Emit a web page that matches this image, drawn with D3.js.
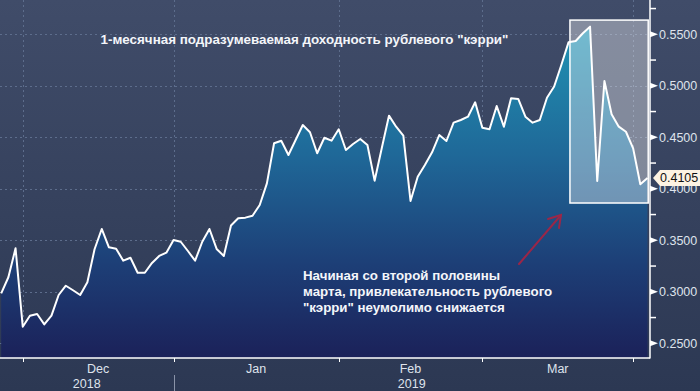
<!DOCTYPE html>
<html><head><meta charset="utf-8">
<script src="https://cdn.jsdelivr.net/npm/d3@7"></script>
<style>html,body{margin:0;padding:0;background:#36425e;}svg{display:block;}</style>
</head><body>
<svg id="chart" width="700" height="391"></svg>
<script>
const values = [0.2985,0.3141,0.3422,0.2661,0.2768,0.2784,0.2684,0.2768,0.2969,0.3059,
0.3015,0.2969,0.3092,0.3413,0.3610,0.3432,0.3418,0.3302,0.3331,0.3185,
0.3185,0.3280,0.3348,0.3380,0.3503,0.3486,0.3396,0.3302,0.3486,0.3610,
0.3416,0.3348,0.3644,0.3714,0.3720,0.3739,0.3843,0.4053,0.4442,0.4467,
0.4328,0.4474,0.4619,0.4549,0.4345,0.4496,0.4467,0.4578,0.4377,0.4435,
0.4483,0.4425,0.4079,0.4396,0.4710,0.4603,0.4516,0.3882,0.4117,0.4231,
0.4354,0.4522,0.4464,0.4642,0.4668,0.4700,0.4840,0.4593,0.4578,0.4804,
0.4603,0.4879,0.4872,0.4700,0.4642,0.4668,0.4884,0.4993,0.5202,0.5422,
0.5435,0.5510,0.5574,0.4076,0.5047,0.4723,0.4603,0.4554,0.4393,0.4044,0.4105];
const monthStartIdx = [3,24,47,67,88];
const monthLabels = ["Dec","Jan","Feb","Mar"];
const yearLabels = ["2018","2019"];
const yMajorTicks = [0.25,0.30,0.35,0.40,0.45,0.50,0.55];
const yMinorTicks = [0.275,0.325,0.375,0.425,0.475,0.525,0.575];
const highlightRange = [79.2, 90.1];
const highlightVals = [0.3862, 0.5638];
const titleText = '1-месячная подразумеваемая доходность рублевого "кэрри"';
const noteLines = ["Начиная со второй половины","марта, привлекательность рублевого",'"кэрри" неумолимо снижается'];
const lastLabel = "0.4105";

const svg = d3.select("#chart");
const W = 700, H = 391, axisX = 650, axisY = 358;
const x = d3.scaleLinear().domain([0, values.length - 1]).range([1.2, 647.5]);
const y = d3.scaleLinear().domain([0.25, 0.55]).range([343.3, 34.3]);
const font = "'Liberation Sans', Arial, sans-serif";

const defs = svg.append("defs");
const bg = defs.append("linearGradient").attr("id","bg").attr("x1",0).attr("y1",0).attr("x2",0).attr("y2",1);
bg.append("stop").attr("offset","0%").attr("stop-color","#404c69");
bg.append("stop").attr("offset","100%").attr("stop-color","#2c3853");
const ag = defs.append("linearGradient").attr("id","ag").attr("gradientUnits","userSpaceOnUse")
  .attr("x1",0).attr("y1",20).attr("x2",0).attr("y2",axisY);
ag.append("stop").attr("offset","0%").attr("stop-color","#2196b5");
ag.append("stop").attr("offset","40%").attr("stop-color","#1f6898");
ag.append("stop").attr("offset","72%").attr("stop-color","#1d3f77");
ag.append("stop").attr("offset","100%").attr("stop-color","#1b2159");

svg.append("rect").attr("width",W).attr("height",H).attr("fill","url(#bg)");

// grid
const grid = svg.append("g").attr("stroke","#5d6d8c").attr("stroke-width",1).attr("stroke-dasharray","2,3");
grid.selectAll(".hg").data(yMajorTicks).join("line")
  .attr("x1",0).attr("x2",axisX).attr("y1",d=>Math.round(y(d))+0.5).attr("y2",d=>Math.round(y(d))+0.5);
grid.selectAll(".vg").data(monthStartIdx).join("line")
  .attr("x1",d=>Math.round(x(d))+0.5).attr("x2",d=>Math.round(x(d))+0.5).attr("y1",0).attr("y2",axisY);

// area + line
const area = d3.area().x((d,i)=>x(i)).y0(axisY).y1(d=>y(d));
svg.append("path").datum(values).attr("d",area).attr("fill","url(#ag)");
const line = d3.line().x((d,i)=>x(i)).y(d=>y(d));
svg.append("path").datum(values).attr("d",line).attr("fill","none")
  .attr("stroke","#ffffff").attr("stroke-width",2).attr("stroke-linejoin","round");

// highlight box
svg.append("rect")
  .attr("x",x(highlightRange[0])).attr("y",y(highlightVals[1]))
  .attr("width",x(highlightRange[1])-x(highlightRange[0]))
  .attr("height",y(highlightVals[0])-y(highlightVals[1]))
  .attr("fill","rgba(255,255,255,0.37)").attr("stroke","#ffffff").attr("stroke-width",1.5);

// axes
svg.append("line").attr("x1",axisX).attr("x2",axisX).attr("y1",0).attr("y2",axisY+0.5)
  .attr("stroke","#fff").attr("stroke-width",1.5);
svg.append("line").attr("x1",0).attr("x2",axisX).attr("y1",axisY).attr("y2",axisY)
  .attr("stroke","#fff").attr("stroke-width",1.5);

const yt = svg.append("g");
yt.selectAll("path.maj").data(yMajorTicks).join("path")
  .attr("d",d=>{const yy=y(d);return `M${axisX},${yy-3}L${axisX+8},${yy}L${axisX},${yy+3}Z`;})
  .attr("fill","#fff");
yt.selectAll("line.min").data(yMinorTicks).join("line")
  .attr("x1",axisX).attr("x2",axisX+6).attr("y1",d=>y(d)).attr("y2",d=>y(d))
  .attr("stroke","#fff").attr("stroke-width",1.5);
yt.selectAll("text").data(yMajorTicks).join("text")
  .attr("x",axisX+9).attr("y",d=>y(d)).attr("dy","0.36em")
  .attr("font-family",font).attr("font-size",12.5).attr("fill","#dfe3ec")
  .text(d=>d3.format(".4f")(d));

// last value label
const ly = y(values[values.length-1]);
svg.append("path")
  .attr("d",`M${axisX+3},${ly}L${axisX+10},${ly-8}L${W},${ly-8}L${W},${ly+8}L${axisX+10},${ly+8}Z`)
  .attr("fill","#fdf3e3");
svg.append("text").attr("x",axisX+10).attr("y",ly).attr("dy","0.36em")
  .attr("font-family",font).attr("font-size",12.5).attr("fill","#111").text(lastLabel);

// x ticks and labels
svg.selectAll("line.xt").data(monthStartIdx).join("line")
  .attr("x1",d=>Math.round(x(d))+0.5).attr("x2",d=>Math.round(x(d))+0.5)
  .attr("y1",axisY).attr("y2",axisY+4).attr("stroke","#fff").attr("stroke-width",1);
svg.selectAll("text.ml").data(monthLabels).join("text")
  .attr("x",(d,i)=>(x(monthStartIdx[i])+x(monthStartIdx[i+1]))/2).attr("y",373)
  .attr("text-anchor","middle").attr("font-family",font).attr("font-size",12.5).attr("fill","#dfe3ec")
  .text(d=>d);
const yearSpans = [[0, x(monthStartIdx[1])],[x(monthStartIdx[1]), axisX]];
svg.selectAll("text.yl").data(yearLabels).join("text")
  .attr("x",(d,i)=>(yearSpans[i][0]+yearSpans[i][1])/2).attr("y",388)
  .attr("text-anchor","middle").attr("font-family",font).attr("font-size",12.5).attr("fill","#dfe3ec")
  .text(d=>d);
svg.append("line").attr("x1",Math.round(x(monthStartIdx[1]))+0.5).attr("x2",Math.round(x(monthStartIdx[1]))+0.5)
  .attr("y1",375).attr("y2",H).attr("stroke","#8a93a8").attr("stroke-width",1);

// title
svg.append("text").attr("x",304.5).attr("y",44).attr("text-anchor","middle")
  .attr("font-family",font).attr("font-weight","bold").attr("font-size",13.4).attr("fill","#f4f6fa")
  .text(titleText);

// note
svg.append("g").selectAll("text").data(noteLines).join("text")
  .attr("x",303).attr("y",(d,i)=>280+i*16)
  .attr("font-family",font).attr("font-weight","bold").attr("font-size",13.3).attr("fill","#f4f6fa")
  .text(d=>d);

// arrow
const ar = svg.append("g").attr("stroke","#b0213f").attr("stroke-width",2).attr("fill","none")
  .attr("stroke-linecap","round").attr("opacity",0.85);
ar.append("line").attr("x1",519).attr("y1",264).attr("x2",561).attr("y2",215);
ar.append("path").attr("d","M548,219L561,215L559,228");
</script>
</body></html>
